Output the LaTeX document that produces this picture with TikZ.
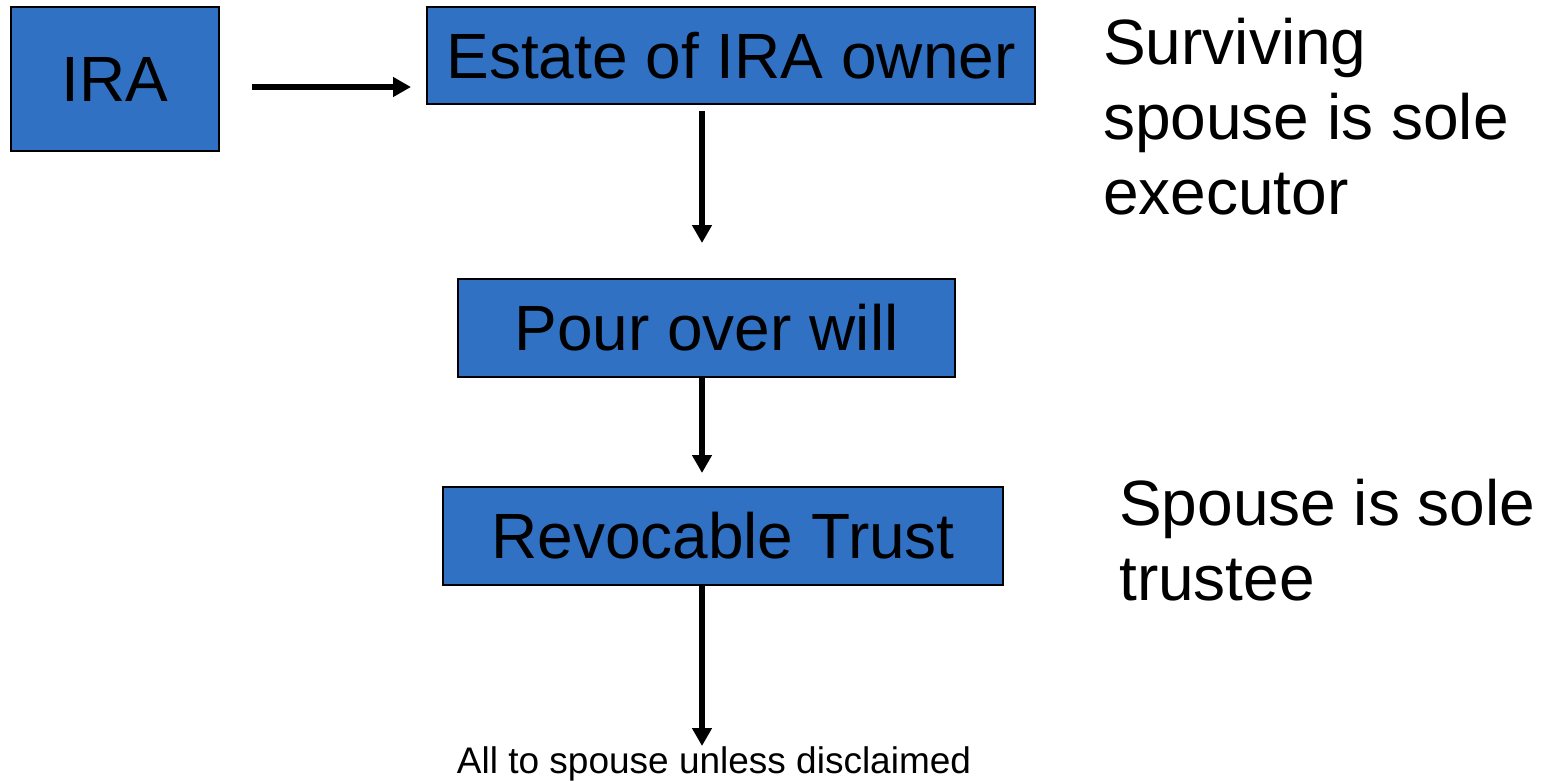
\documentclass[tikz,border=0pt]{standalone}
\usepackage{fontspec}
\setmainfont{Liberation Sans}
\usetikzlibrary{arrows.meta}
\definecolor{boxblue}{HTML}{3171C4}
\begin{document}
\begin{tikzpicture}[x=1pt,y=1pt,
  box/.style={draw=black, line width=2pt, fill=boxblue, inner sep=0pt,
    font=\fontsize{64}{75}\selectfont},
  note/.style={inner sep=0pt, align=left, anchor=north west,
    font=\fontsize{64}{75}\selectfont},
  flow/.style={line width=5.5pt, -{Triangle[length=18pt,width=19pt]}}]
  \useasboundingbox (0,0) rectangle (1547,-780);
  % boxes
  \node[box, minimum width=208pt, minimum height=144pt] (ira) at (115,-79) {IRA};
  \node[box, minimum width=608pt, minimum height=97pt] (estate) at (731,-55.5) {Estate of IRA owner};
  \node[box, minimum width=497pt, minimum height=98pt] (will) at (706.5,-328) {Pour over will};
  \node[box, minimum width=560pt, minimum height=98pt] (trust) at (723,-536) {Revocable Trust};
  % side notes
  \node[note] (exec) at (1103,-18) {Surviving\\spouse is sole\\executor};
  \node[note] (trustee) at (1119,-479) {Spouse is sole\\trustee};
  % final outcome
  \node[inner sep=0pt, font=\fontsize{37}{44}\selectfont, anchor=base] (outcome) at (714,-773) {All to spouse unless disclaimed};
  % connectors
  \coordinate (h0) at (252,-87);
  \coordinate (h1) at (411,-87);
  \coordinate (v1a) at (702,-111);
  \coordinate (v1b) at (702,-243);
  \coordinate (v3b) at (702,-746);
  \draw[flow] (h0) -- (h1);
  \draw[flow] (v1a) -- (v1b);
  \draw[flow] (will.south -| v1a) -- (702,-473);
  \draw[flow] (trust.south -| v1a) -- (v3b);
\end{tikzpicture}
\end{document}
